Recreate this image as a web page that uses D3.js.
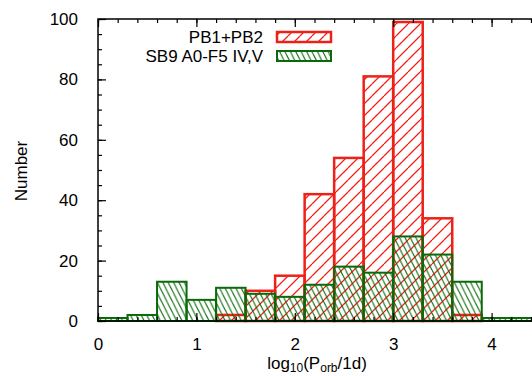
<!DOCTYPE html>
<html>
<head>
<meta charset="utf-8">
<script src="https://cdn.jsdelivr.net/npm/d3@7"></script>
<style>
  html, body { margin: 0; padding: 0; background: #fff; }
  svg { display: block; font-family: "Liberation Sans", Arial, sans-serif; }
</style>
</head>
<body>
<div id="chart"></div>
<script>
// bin left edges in log10(P/1d), width 0.3
const binStarts = [0.0, 0.3, 0.6, 0.9, 1.2, 1.5, 1.8, 2.1, 2.4, 2.7, 3.0, 3.3, 3.6, 3.9, 4.2];
const binWidth = 0.3;
const pbCounts  = [0, 0, 0, 0, 2, 10, 15, 42, 54, 81, 99, 34, 2, 0, 0];
const sb9Counts = [1, 2, 13, 7, 11, 9, 8, 12, 18, 16, 28, 22, 13, 1, 1];
const seriesNames = ['PB1+PB2', 'SB9 A0-F5 IV,V'];
const xTicks = [0, 1, 2, 3, 4];
const yTicks = [0, 20, 40, 60, 80, 100];

const W = 532, H = 376;
const red = '#ec2218', green = '#0a6a0a';

const svg = d3.select('#chart').append('svg')
    .attr('width', W)
    .attr('height', H);

const x = d3.scaleLinear().domain([0, 4.5]).range([98, 540.8]);
const y = d3.scaleLinear().domain([0, 100]).range([321, 19]);

// hatch patterns
const defs = svg.append('defs');
const pr = defs.append('pattern')
    .attr('id', 'hatchRed')
    .attr('patternUnits', 'userSpaceOnUse')
    .attr('width', 12).attr('height', 12);
pr.append('path')
    .attr('d', 'M-12,12L0,0M0,12L12,0M12,12L24,0')
    .attr('fill', 'none')
    .attr('stroke', red)
    .attr('stroke-width', 1.3);
const s = 5.4;
const pg = defs.append('pattern')
    .attr('id', 'hatchGreen')
    .attr('patternUnits', 'userSpaceOnUse')
    .attr('width', s).attr('height', 2 * s);
pg.append('path')
    .attr('d', [-s, 0, s].map(o => `M${o},0L${o + s},${2 * s}`).join(''))
    .attr('fill', 'none')
    .attr('stroke', green)
    .attr('stroke-width', 1.1);

function drawBars(counts, fill, stroke, sw) {
    const data = binStarts.map((b, i) => ({ b, v: counts[i] })).filter(d => d.v > 0);
    svg.append('g').selectAll('rect')
        .data(data)
        .join('rect')
        .attr('x', d => x(d.b))
        .attr('y', d => y(d.v))
        .attr('width', d => x(d.b + binWidth) - x(d.b))
        .attr('height', d => y(0) - y(d.v))
        .attr('fill', fill)
        .attr('stroke', stroke)
        .attr('stroke-width', sw);
}
drawBars(pbCounts, 'url(#hatchRed)', red, 2.5);
drawBars(sb9Counts, 'url(#hatchGreen)', green, 2);

// axes with inward ticks on all sides
const xMinor = d3.range(0, 4.61, 0.2);
const yMinor = d3.range(0, 101, 5);
const tickFont = g => g.selectAll('text').attr('font-size', 17).attr('fill', '#000')
    .attr('font-family', '"Liberation Sans", Arial, sans-serif');
const clean = g => { g.select('.domain').remove(); g.selectAll('line').attr('stroke', '#000').attr('stroke-width', 1.2); };

svg.append('g').attr('transform', `translate(0,${y(0)})`)
    .call(d3.axisBottom(x).tickValues(xMinor).tickSize(-4).tickFormat(''))
    .call(clean);
svg.append('g').attr('transform', `translate(0,${y(0)})`)
    .call(d3.axisBottom(x).tickValues(xTicks).tickSize(-8).tickPadding(17).tickFormat(d3.format('d')))
    .call(clean).call(tickFont);
svg.append('g').attr('transform', `translate(0,${y(100)})`)
    .call(d3.axisTop(x).tickValues(xMinor).tickSize(-4).tickFormat(''))
    .call(clean);
svg.append('g').attr('transform', `translate(0,${y(100)})`)
    .call(d3.axisTop(x).tickValues(xTicks).tickSize(-8).tickFormat(''))
    .call(clean);

svg.append('g').attr('transform', `translate(${x(0)},0)`)
    .call(d3.axisLeft(y).tickValues(yMinor).tickSize(-4).tickFormat(''))
    .call(clean);
svg.append('g').attr('transform', `translate(${x(0)},0)`)
    .call(d3.axisLeft(y).tickValues(yTicks).tickSize(-8).tickPadding(20).tickFormat(d3.format('d')))
    .call(clean).call(tickFont);
svg.append('g').attr('transform', `translate(${x(4.5)},0)`)
    .call(d3.axisRight(y).tickValues(yMinor).tickSize(-4).tickFormat(''))
    .call(clean);
svg.append('g').attr('transform', `translate(${x(4.5)},0)`)
    .call(d3.axisRight(y).tickValues(yTicks).tickSize(-8).tickFormat(''))
    .call(clean);

// frame
svg.append('rect')
    .attr('x', x(0)).attr('y', y(100))
    .attr('width', x(4.5) - x(0)).attr('height', y(0) - y(100))
    .attr('fill', 'none').attr('stroke', '#000').attr('stroke-width', 1.5);

// legend
const legend = svg.append('g');
[[seriesNames[0], 'url(#hatchRed)', red, 2.5], [seriesNames[1], 'url(#hatchGreen)', green, 2]]
    .forEach(([name, fill, stroke, sw], i) => {
        const ly = 32 + i * 19;
        legend.append('text')
            .attr('x', 263).attr('y', ly + 11)
            .attr('text-anchor', 'end')
            .attr('font-size', 17)
            .text(name);
        legend.append('rect')
            .attr('x', 277).attr('y', ly)
            .attr('width', 54).attr('height', 10)
            .attr('fill', fill).attr('stroke', stroke).attr('stroke-width', sw);
    });

// axis titles
svg.append('text')
    .attr('transform', 'translate(27,171) rotate(-90)')
    .attr('text-anchor', 'middle')
    .attr('font-size', 17)
    .text('Number');

const xl = svg.append('text')
    .attr('x', 317).attr('y', 369)
    .attr('text-anchor', 'middle')
    .attr('font-size', 17);
xl.append('tspan').text('log');
xl.append('tspan').attr('font-size', 12).attr('dy', 3).text('10');
xl.append('tspan').attr('dy', -3).text('(P');
xl.append('tspan').attr('font-size', 12).attr('dy', 3).text('orb');
xl.append('tspan').attr('dy', -3).text('/1d)');
</script>
</body>
</html>
